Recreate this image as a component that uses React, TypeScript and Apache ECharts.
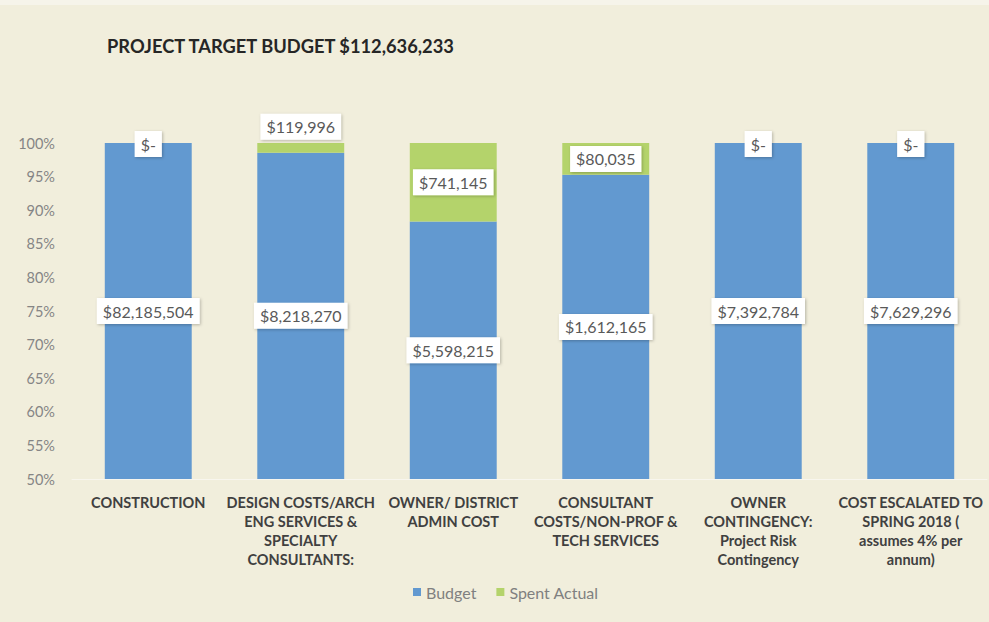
import React, { useEffect, useRef } from "react";
import * as echarts from "echarts";

const title = "PROJECT TARGET BUDGET $112,636,233";
const categories = [
  "CONSTRUCTION",
  "DESIGN COSTS/ARCH\nENG SERVICES &\nSPECIALTY\nCONSULTANTS:",
  "OWNER/ DISTRICT\nADMIN COST",
  "CONSULTANT\nCOSTS/NON-PROF &\nTECH SERVICES",
  "OWNER\nCONTINGENCY:\nProject Risk\nContingency",
  "COST ESCALATED TO\nSPRING 2018 (\nassumes 4% per\nannum)",
];
const budget = [82185504, 8218270, 5598215, 1612165, 7392784, 7629296];
const spentActual = [0, 119996, 741145, 80035, 0, 0];
const seriesNames = ["Budget", "Spent Actual"];

const FONT = "Lato";

function money(v: number): string {
  return v === 0 ? "$-" : "$" + v.toLocaleString("en-US");
}

export default function App() {
  const ref = useRef<HTMLDivElement>(null);
  useEffect(() => {
    if (!ref.current) return;
    const chart = echarts.init(ref.current, undefined, { renderer: "svg" });
    const totals = budget.map((b, i) => b + spentActual[i]);
    const labelBox = {
      show: true,
      position: "inside" as const,
      backgroundColor: "#ffffff",
      color: "#595959",
      fontFamily: FONT,
      fontSize: 16,
      padding: [5, 6, 5, 6],
      shadowColor: "rgba(0,0,0,0.25)",
      shadowBlur: 3,
      shadowOffsetX: 1,
      shadowOffsetY: 1,
    };
    chart.setOption({
      animation: false,
      backgroundColor: "#f1eedc",
      textStyle: { fontFamily: FONT },
      graphic: [
        {
          type: "rect",
          left: 0,
          top: 0,
          shape: { width: 989, height: 5 },
          style: { fill: "#f6f4ea" },
          silent: true,
        },
      ],
      title: {
        text: title,
        left: 102,
        top: 32,
        textStyle: { fontFamily: FONT, fontWeight: "bold", fontSize: 18.3, color: "#262626" },
      },
      legend: {
        data: seriesNames,
        left: 408,
        top: 579,
        itemWidth: 8,
        itemHeight: 8,
        itemGap: 20,
        icon: "rect",
        textStyle: { color: "#808080", fontSize: 16, fontFamily: FONT },
      },
      grid: { left: 72, right: 2, top: 143, bottom: 143, containLabel: false },
      xAxis: {
        type: "category",
        data: categories,
        axisTick: { show: false },
        axisLine: { lineStyle: { color: "#f8f6ee", width: 1 } },
        axisLabel: {
          interval: 0,
          margin: 14,
          color: "#404040",
          fontWeight: "bold",
          fontSize: 14.5,
          lineHeight: 19,
          fontFamily: FONT,
        },
      },
      yAxis: {
        type: "value",
        min: 50,
        max: 100,
        interval: 5,
        splitLine: { show: false },
        axisLine: { show: false },
        axisTick: { show: false },
        axisLabel: {
          formatter: (v: number) => v + "%",
          color: "#858585",
          fontSize: 14.5,
          margin: 17,
          fontFamily: FONT,
        },
      },
      series: [
        {
          name: seriesNames[0],
          type: "bar",
          stack: "total",
          barWidth: "57%",
          itemStyle: { color: "#6299d0" },
          data: budget.map((b, i) => ({ value: (b / totals[i]) * 100 })),
          label: {
            ...labelBox,
            formatter: (p: any) => money(budget[p.dataIndex]),
          },
        },
        {
          name: seriesNames[1],
          type: "bar",
          stack: "total",
          barWidth: "57%",
          itemStyle: { color: "#b4d36b" },
          data: spentActual.map((s, i) => {
            const item: any = { value: (s / totals[i]) * 100 };
            if (i === 1) item.label = { offset: [0, -21] };
            if (s === 0) item.label = { offset: [0, 1] };
            return item;
          }),
          label: {
            ...labelBox,
            formatter: (p: any) => money(spentActual[p.dataIndex]),
          },
        },
      ],
    });
    return () => chart.dispose();
  }, []);
  return (
    <div
      ref={ref}
      style={{ position: "absolute", left: 0, top: 0, width: 989, height: 622 }}
    />
  );
}
